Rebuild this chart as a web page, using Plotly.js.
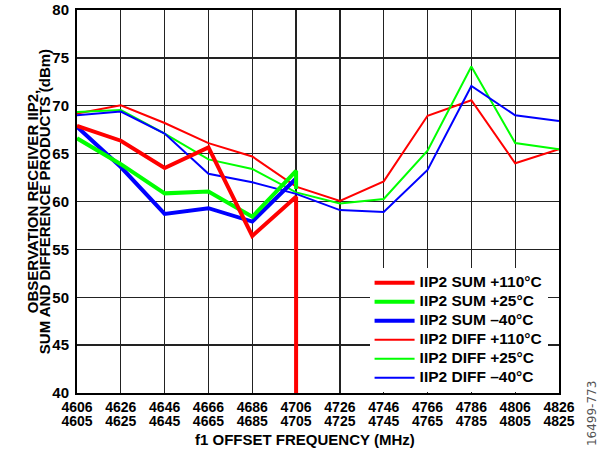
<!DOCTYPE html>
<html>
<head>
<meta charset="utf-8">
<script src="https://cdn.plot.ly/plotly-3.0.1.min.js"></script>
<style>html,body{margin:0;padding:0;background:#fff;}#chart{width:599px;height:452px;}</style>
</head>
<body>
<div id="chart"></div>
<script>
// Tick labels (two rows: f1 top row, second row below)
const freqsTop = [4606, 4626, 4646, 4666, 4686, 4706, 4726, 4746, 4766, 4786, 4806, 4826];
const freqsBottom = ['4605', '4625', '4645', '4665', '4685', '4705', '4725', '4745', '4765', '4785', '4805', '4825'];

// SUM products (end at 4706; +110°C and +25°C drop at 4706)
const sum110X = [4606, 4626, 4646, 4666, 4686, 4706, 4706];
const sum110 = [67.9, 66.35, 63.5, 65.65, 56.4, 60.5, 0];
const sum25X = [4606, 4626, 4646, 4666, 4686, 4706, 4706];
const sum25 = [66.6, 63.9, 60.85, 61.05, 58.4, 63.2, 61.3];
const sum40X = [4606, 4626, 4646, 4666, 4686, 4706];
const sum40 = [67.8, 63.6, 58.7, 59.3, 57.9, 62.4];

// DIFF products
const diff110 = [69.2, 70.05, 68.2, 66.1, 64.7, 61.55, 60.05, 62.1, 68.96, 70.57, 64.0, 65.45];
const diff25 = [69.35, 69.55, 67.1, 64.4, 63.4, 60.95, 59.8, 60.26, 65.3, 74.1, 66.1, 65.45];
const diff40 = [69.0, 69.4, 67.1, 62.9, 62.0, 60.8, 59.1, 58.9, 63.3, 72.06, 69.0, 68.4];

const names = ['IIP2 SUM +110°C', 'IIP2 SUM +25°C', 'IIP2 SUM \u201340°C',
               'IIP2 DIFF +110°C', 'IIP2 DIFF +25°C', 'IIP2 DIFF \u201340°C'];

const RED = '#ff0000', GREEN = '#00ff00', BLUE = '#0000ff';
const FONT = 'Arial, "Liberation Sans", sans-serif';
const big = s => '<span style="font-size:15.5px">' + s + '</span>';

const traces = [
  {x: freqsTop, y: diff110, name: big(names[3]), line: {color: RED, width: 2}, legendrank: 4},
  {x: freqsTop, y: diff25, name: big(names[4]), line: {color: GREEN, width: 2}, legendrank: 5},
  {x: freqsTop, y: diff40, name: big(names[5]), line: {color: BLUE, width: 2}, legendrank: 6},
  {x: sum40X, y: sum40, name: big(names[2]), line: {color: BLUE, width: 4}, legendrank: 3},
  {x: sum25X, y: sum25, name: big(names[1]), line: {color: GREEN, width: 4}, legendrank: 2},
  {x: sum110X, y: sum110, name: big(names[0]), line: {color: RED, width: 4}, legendrank: 1},
  // empty trace so the second tick-label axis is drawn
  {x: [], y: [], xaxis: 'x2', yaxis: 'y', showlegend: false, hoverinfo: 'skip'}
].map(t => Object.assign({type: 'scatter', mode: 'lines'}, t));

const tickFont = {family: FONT, size: 14, color: '#000', weight: 'bold'};

const layout = {
  width: 599, height: 452,
  margin: {l: 77, r: 40, t: 10, b: 59},
  paper_bgcolor: '#fff', plot_bgcolor: '#fff',
  font: {family: FONT, color: '#000'},
  showlegend: true,
  legend: {
    x: 0.607, xanchor: 'left', y: 0.326, yanchor: 'top',
    bgcolor: '#fff', borderwidth: 0, itemwidth: 40,
    font: {family: FONT, size: 12, color: '#000', weight: 'bold'},
    tracegroupgap: 0
  },
  xaxis: {
    type: 'linear', range: [4606, 4826],
    tickmode: 'array', tickvals: freqsTop, ticktext: freqsTop.map(String),
    tickfont: tickFont, ticks: '',
    showgrid: true, gridcolor: '#222', gridwidth: 1.3,
    showline: true, linecolor: '#000', linewidth: 2, mirror: true,
    zeroline: false, fixedrange: true
  },
  xaxis2: {
    type: 'linear', range: [4606, 4826], overlaying: 'x', side: 'bottom', anchor: 'y',
    tickmode: 'array', tickvals: freqsTop, ticktext: freqsBottom,
    tickfont: tickFont, ticks: '', ticklabelstandoff: 18,
    showgrid: false, showline: false, zeroline: false, fixedrange: true
  },
  yaxis: {
    range: [40, 80], dtick: 5, tick0: 40,
    tickfont: {family: FONT, size: 15, color: '#000', weight: 'bold'}, ticks: '',
    ticklabelstandoff: 3,
    showgrid: true, gridcolor: '#222', gridwidth: 1.3,
    showline: true, linecolor: '#000', linewidth: 2, mirror: true,
    zeroline: false, fixedrange: true
  },
  annotations: [
    {text: 'OBSERVATION RECEIVER IIP2,', xref: 'paper', yref: 'paper', x: -0.092, y: 0.5,
     xanchor: 'center', yanchor: 'middle', textangle: -90, showarrow: false,
     font: {family: FONT, size: 15, color: '#000', weight: 'bold'}},
    {text: 'SUM AND DIFFERENCE PRODUCTS (dBm)', xref: 'paper', yref: 'paper', x: -0.067, y: 0.5,
     xanchor: 'center', yanchor: 'middle', textangle: -90, showarrow: false,
     font: {family: FONT, size: 15, color: '#000', weight: 'bold'}},
    {text: 'f1 OFFSET FREQUENCY (MHz)', xref: 'paper', yref: 'paper', x: 0.4737, y: -0.1227,
     xanchor: 'center', yanchor: 'middle', showarrow: false,
     font: {family: FONT, size: 15, color: '#000', weight: 'bold'}},
    {text: '16499-773', xref: 'paper', yref: 'paper', x: 1.0, xshift: 33, y: -0.055,
     xanchor: 'center', yanchor: 'middle', textangle: -90, showarrow: false,
     font: {family: '"DejaVu Sans", sans-serif', size: 12, color: '#555'}}
  ]
};

Plotly.newPlot('chart', traces, layout, {displayModeBar: false, staticPlot: true});
</script>
</body>
</html>
